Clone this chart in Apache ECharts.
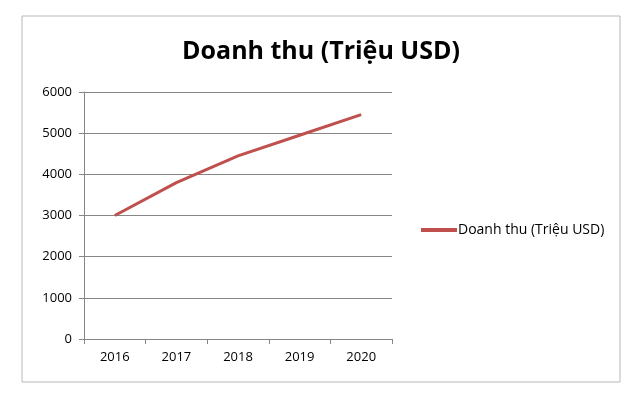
<!DOCTYPE html>
<html><head><meta charset="utf-8">
<script src="https://cdn.jsdelivr.net/npm/echarts@6/dist/echarts.min.js"></script>
<style>html,body{margin:0;padding:0;background:#fff}#c{width:642px;height:400px}</style>
</head><body><div id="c"></div>
<script>
const years = ['2016','2017','2018','2019','2020'];
const revenue = [3000, 3800, 4450, 4950, 5450];
const seriesName = 'Doanh thu (Triệu USD)';
const titleText = 'Doanh thu (Triệu USD)';

const chart = echarts.init(document.getElementById('c'));
chart.setOption({
  animation: false,
  backgroundColor: '#fff',
  title: {
    text: titleText, left: 'center', top: 34,
    textStyle: {fontFamily: 'Open Sans', fontSize: 25, fontWeight: 'bold', color: '#000'}
  },
  graphic: [{
    type: 'rect', shape: {x: 22, y: 16, width: 598, height: 366},
    style: {fill: 'none', stroke: '#b8b8b8', lineWidth: 1}, silent: true
  }],
  legend: {
    data: [seriesName], left: 416, top: 218, orient: 'vertical',
    itemWidth: 36, itemHeight: 4, itemGap: 4,
    icon: 'rect',
    textStyle: {fontFamily: 'Open Sans', fontSize: 14, color: '#000', padding: [0,0,0,-4]}
  },
  grid: {left: 84, right: 250, top: 92, bottom: 61},
  xAxis: {
    type: 'category', data: years, boundaryGap: true,
    axisLine: {lineStyle: {color: '#868686'}},
    axisTick: {show: true, length: 5, inside: false, lineStyle: {color: '#868686'}},
    axisLabel: {fontFamily: 'Open Sans', fontSize: 13, color: '#000', margin: 12}
  },
  yAxis: {
    type: 'value', min: 0, max: 6000, interval: 1000,
    axisLine: {show: true, lineStyle: {color: '#868686'}},
    axisTick: {show: true, length: 5, lineStyle: {color: '#868686'}},
    splitLine: {lineStyle: {color: '#868686'}},
    axisLabel: {fontFamily: 'Open Sans', fontSize: 13, color: '#000', margin: 12,
      formatter: v => String(v)}
  },
  series: [{
    name: seriesName, type: 'line', data: revenue,
    symbol: 'none', lineStyle: {color: '#C0504D', width: 3},
    itemStyle: {color: '#C0504D'}
  }]
});
</script></body></html>
